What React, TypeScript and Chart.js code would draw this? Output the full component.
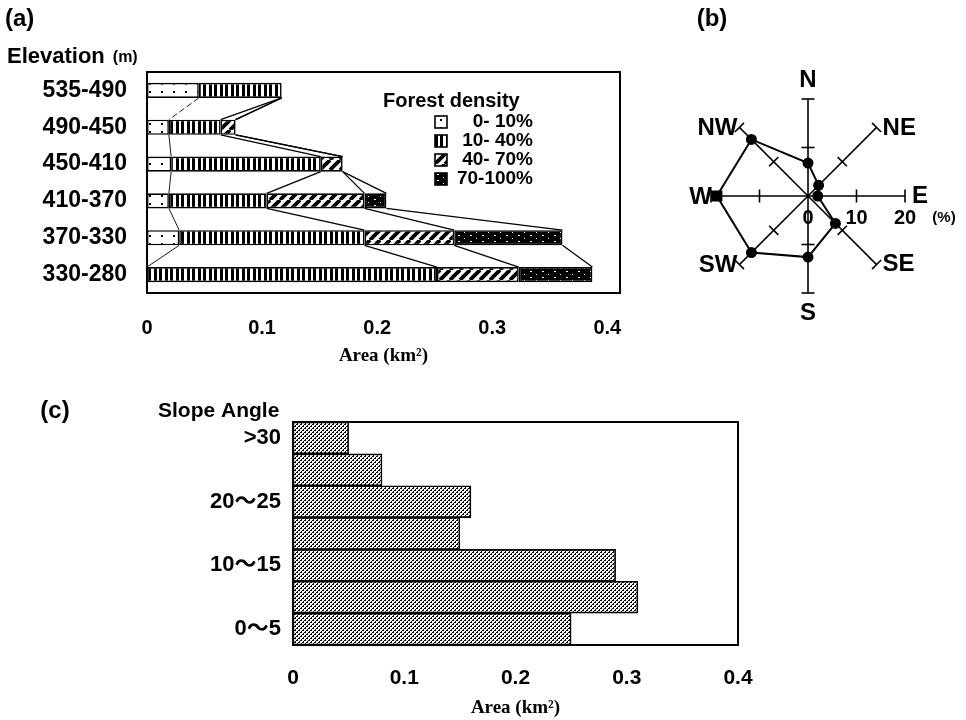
import React, { useEffect, useRef } from 'react';
import { Chart, registerables } from 'chart.js';

Chart.register(...registerables);

// ---------- data ----------
const ELEVATIONS = ['535-490', '490-450', '450-410', '410-370', '370-330', '330-280'];
const DENSITY_LABELS = ['0- 10%', '10- 40%', '40- 70%', '70-100%'];
const DENSITY_0_10 = [0.045, 0.019, 0.021, 0.019, 0.028, 0];
const DENSITY_10_40 = [0.072, 0.045, 0.13, 0.085, 0.161, 0.252];
const DENSITY_40_70 = [0, 0.013, 0.019, 0.085, 0.078, 0.071];
const DENSITY_70_100 = [0, 0, 0, 0.019, 0.094, 0.064];
const AREA_TICKS = [0, 0.1, 0.2, 0.3, 0.4];
const AREA_MAX_A = 0.411;
const AREA_MAX_C = 0.4;

const DIRECTIONS = ['N', 'NE', 'E', 'SE', 'S', 'SW', 'W', 'NW'];
const ASPECT_PCT = [6.8, 3.1, 2.0, 8.0, 12.6, 16.5, 18.8, 16.5];
const ASPECT_TICKS = [0, 10, 20];

const SLOPES = ['>30', '25〜30', '20〜25', '15〜20', '10〜15', '5〜10', '0〜5'];
const SLOPE_AREA = [0.05, 0.08, 0.16, 0.15, 0.29, 0.31, 0.25];

// ---------- styling helpers ----------
const SANS = '"Liberation Sans", "Noto Sans CJK JP", sans-serif';
const SERIF = '"Liberation Serif", serif';

function makePattern(kind: string): CanvasPattern | string {
  const c = document.createElement('canvas');
  const g = c.getContext('2d');
  if (!g) return '#888';
  if (kind === 'dots') {
    c.width = 12; c.height = 8;
    g.fillStyle = '#fff'; g.fillRect(0, 0, 12, 8);
    g.fillStyle = '#000'; g.fillRect(5, 3, 2, 2);
  } else if (kind === 'vstripe') {
    c.width = 11; c.height = 4;
    g.fillStyle = '#fff'; g.fillRect(0, 0, 11, 4);
    g.fillStyle = '#000'; g.fillRect(0, 0, 3, 4); g.fillRect(5, 0, 3, 4);
  } else if (kind === 'diag') {
    c.width = 10; c.height = 10;
    g.fillStyle = '#fff'; g.fillRect(0, 0, 10, 10);
    g.strokeStyle = '#000'; g.lineWidth = 3.8;
    for (const o of [-10, 0, 10]) {
      g.beginPath(); g.moveTo(o, 10); g.lineTo(o + 10, 0); g.stroke();
    }
  } else if (kind === 'dense') {
    c.width = 12; c.height = 6;
    g.fillStyle = '#000'; g.fillRect(0, 0, 12, 6);
    g.fillStyle = '#fff';
    g.fillRect(2, 1, 2, 1); g.fillRect(8, 4, 1, 1);
  } else {
    c.width = 4; c.height = 4;
    g.fillStyle = '#fff'; g.fillRect(0, 0, 4, 4);
    g.fillStyle = '#000';
    g.fillRect(0, 0, 2, 1); g.fillRect(3, 1, 1, 1);
    g.fillRect(2, 2, 2, 1); g.fillRect(1, 3, 1, 1);
  }
  return g.createPattern(c, 'repeat') || '#888';
}

const boxPlugin = {
  id: 'box',
  afterDraw(chart: any) {
    const { left, top, right, bottom } = chart.chartArea;
    const ctx = chart.ctx;
    ctx.save();
    ctx.strokeStyle = '#000';
    ctx.lineWidth = 2;
    ctx.strokeRect(left, top, right - left, bottom - top);
    ctx.restore();
  },
};

const connectorPlugin = {
  id: 'connectors',
  afterDatasetsDraw(chart: any) {
    const ctx = chart.ctx;
    const n = chart.data.labels.length;
    ctx.save();
    ctx.strokeStyle = '#000';
    chart.data.datasets.forEach((_ds: any, k: number) => {
      const meta = chart.getDatasetMeta(k);
      ctx.lineWidth = k === 0 ? 0.9 : 1.3;
      for (let i = 0; i < n - 1; i++) {
        const a = meta.data[i].getProps(['x', 'y', 'height'], true);
        const b = meta.data[i + 1].getProps(['x', 'y', 'height'], true);
        ctx.setLineDash(k === 0 && i === 0 ? [6, 3] : []);
        ctx.beginPath();
        ctx.moveTo(a.x, a.y + a.height / 2);
        ctx.lineTo(b.x, b.y - b.height / 2);
        ctx.stroke();
      }
    });
    ctx.restore();
  },
};

const noSidePadding = (s: any) => {
  s.paddingLeft = 0;
  s.paddingRight = 0;
};

export default function App() {
  const aRef = useRef<HTMLCanvasElement>(null);
  const bRef = useRef<HTMLCanvasElement>(null);
  const cRef = useRef<HTMLCanvasElement>(null);

  useEffect(() => {
    const charts: Chart[] = [];
    const pDots = makePattern('dots');
    const pStripe = makePattern('vstripe');
    const pDiag = makePattern('diag');
    const pDense = makePattern('dense');
    const pStipple = makePattern('stipple');
    const densityFills = [pDots, pStripe, pDiag, pDense];

    // ---------- panel (a) ----------
    const legendPlugin = {
      id: 'densityLegend',
      afterDraw(chart: any) {
        const ctx = chart.ctx;
        ctx.save();
        ctx.fillStyle = '#000';
        ctx.font = `bold 20px ${SANS}`;
        ctx.textAlign = 'left';
        ctx.textBaseline = 'middle';
        ctx.fillText('Forest density', 383, 101);
        ctx.font = `bold 19px ${SANS}`;
        ctx.textAlign = 'right';
        const rows = [122, 141, 160, 179];
        DENSITY_LABELS.forEach((lab, i) => {
          const y = rows[i];
          ctx.save();
          ctx.translate(435, y - 6);
          ctx.fillStyle = densityFills[i];
          ctx.fillRect(0, 0, 12, 12);
          ctx.strokeStyle = '#000';
          ctx.lineWidth = 1.6;
          ctx.strokeRect(0, 0, 12, 12);
          ctx.restore();
          ctx.fillText(lab, 533, y);
        });
        ctx.font = `bold 24px ${SANS}`;
        ctx.textAlign = 'left';
        ctx.fillText('(a)', 5, 19);
        ctx.font = `bold 22px ${SANS}`;
        ctx.fillText('Elevation', 7, 57);
        const w = ctx.measureText('Elevation').width;
        ctx.font = `bold 16px ${SANS}`;
        ctx.fillText('(m)', 7 + w + 8, 58);
        ctx.restore();
      },
    };

    const common = {
      borderColor: '#000',
      borderWidth: 1.6,
      borderSkipped: false,
      barPercentage: 0.41,
      categoryPercentage: 1,
    };

    if (aRef.current) {
      charts.push(
        new Chart(aRef.current, {
          type: 'bar',
          data: {
            labels: ELEVATIONS,
            datasets: [
              { label: DENSITY_LABELS[0], data: DENSITY_0_10, backgroundColor: pDots, ...common },
              { label: DENSITY_LABELS[1], data: DENSITY_10_40, backgroundColor: pStripe, ...common },
              { label: DENSITY_LABELS[2], data: DENSITY_40_70, backgroundColor: pDiag, ...common },
              { label: DENSITY_LABELS[3], data: DENSITY_70_100, backgroundColor: pDense, ...common },
            ] as any,
          },
          options: {
            animation: false,
            responsive: false,
            indexAxis: 'y',
            layout: { padding: { top: 72, right: 20, left: 0, bottom: 0 } },
            plugins: { legend: { display: false }, tooltip: { enabled: false } },
            scales: {
              x: {
                stacked: true,
                min: 0,
                max: AREA_MAX_A,
                grid: { display: false },
                border: { display: false },
                afterBuildTicks: (s: any) => {
                  s.ticks = AREA_TICKS.map((v) => ({ value: v }));
                },
                afterFit: (s: any) => {
                  s.height = 87;
                  noSidePadding(s);
                },
                ticks: {
                  color: '#000',
                  padding: 15,
                  font: { family: SANS, size: 20, weight: 'bold' },
                  callback: (v: any) => String(v),
                },
                title: {
                  display: true,
                  text: 'Area (km²)',
                  color: '#000',
                  font: { family: SERIF, size: 19, weight: 'bold' },
                  padding: { top: 0, bottom: 13 },
                },
              },
              y: {
                stacked: true,
                grid: { display: false },
                border: { display: false },
                afterFit: (s: any) => {
                  s.width = 147;
                },
                ticks: {
                  color: '#000',
                  padding: 12,
                  autoSkip: false,
                  font: { family: SANS, size: 23, weight: 'bold' },
                },
              },
            },
          } as any,
          plugins: [connectorPlugin, boxPlugin, legendPlugin],
        })
      );
    }

    // ---------- panel (b) ----------
    const LABEL_PLACE: Record<string, [CanvasTextAlign, number, number]> = {
      N: ['center', 0, -19],
      NE: ['left', 6, 1],
      E: ['left', 7, 0],
      SE: ['left', 6, 0],
      S: ['center', 0, 20],
      SW: ['right', -2, 1],
      W: ['right', 1, 1],
      NW: ['right', -2, 1],
    };
    const radarDecor = {
      id: 'radarDecor',
      afterDraw(chart: any) {
        const s = chart.scales.r;
        const ctx = chart.ctx;
        ctx.save();
        ctx.strokeStyle = '#000';
        ctx.lineWidth = 1.6;
        DIRECTIONS.forEach((_d, i) => {
          const ang = s.getIndexAngle(i) - Math.PI / 2;
          const px = -Math.sin(ang);
          const py = Math.cos(ang);
          ASPECT_TICKS.slice(1).forEach((v) => {
            const p = s.getPointPositionForValue(i, v);
            ctx.beginPath();
            ctx.moveTo(p.x - 6.5 * px, p.y - 6.5 * py);
            ctx.lineTo(p.x + 6.5 * px, p.y + 6.5 * py);
            ctx.stroke();
          });
        });
        ctx.fillStyle = '#000';
        ctx.textBaseline = 'middle';
        ctx.font = `bold 24px ${SANS}`;
        DIRECTIONS.forEach((d, i) => {
          const p = s.getPointPositionForValue(i, s.max);
          const [al, dx, dy] = LABEL_PLACE[d];
          ctx.textAlign = al;
          ctx.fillText(d, p.x + dx, p.y + dy);
        });
        const eIdx = DIRECTIONS.indexOf('E');
        ctx.font = `bold 20px ${SANS}`;
        ctx.textAlign = 'center';
        ASPECT_TICKS.forEach((v) => {
          const p = s.getPointPositionForValue(eIdx, v);
          ctx.fillText(String(v), p.x, p.y + 22);
        });
        const pe = s.getPointPositionForValue(eIdx, s.max);
        ctx.font = `bold 15px ${SANS}`;
        ctx.fillText('(%)', pe.x + 39, pe.y + 22);
        ctx.font = `bold 24px ${SANS}`;
        ctx.fillText('(b)', 52, 19);
        ctx.restore();
      },
    };

    if (bRef.current) {
      charts.push(
        new Chart(bRef.current, {
          type: 'radar',
          data: {
            labels: DIRECTIONS,
            datasets: [
              {
                data: ASPECT_PCT,
                borderColor: '#000',
                borderWidth: 2,
                backgroundColor: 'transparent',
                fill: false,
                pointBackgroundColor: '#000',
                pointBorderColor: '#000',
                pointRadius: DIRECTIONS.map((d) => (d === 'W' ? 6.5 : 4.5)),
                pointStyle: DIRECTIONS.map((d) => (d === 'W' ? 'rect' : 'circle')),
              },
            ] as any,
          },
          options: {
            animation: false,
            responsive: false,
            layout: { padding: { left: 51, right: 61, top: 99, bottom: 47 } },
            plugins: { legend: { display: false }, tooltip: { enabled: false } },
            elements: { line: { tension: 0 } },
            scales: {
              r: {
                min: 0,
                max: 20,
                ticks: { display: false, stepSize: 10 },
                grid: { display: false },
                angleLines: { display: true, color: '#000', lineWidth: 1.6 },
                pointLabels: { display: false },
              },
            },
          } as any,
          plugins: [radarDecor],
        })
      );
    }

    // ---------- panel (c) ----------
    const cTitles = {
      id: 'cTitles',
      afterDraw(chart: any) {
        const ctx = chart.ctx;
        ctx.save();
        ctx.fillStyle = '#000';
        ctx.textBaseline = 'middle';
        ctx.font = `bold 24px ${SANS}`;
        ctx.textAlign = 'center';
        ctx.fillText('(c)', 55, 31);
        ctx.font = `bold 21px ${SANS}`;
        ctx.textAlign = 'left';
        ctx.fillText('Slope Angle', 158, 31);
        ctx.restore();
      },
    };

    if (cRef.current) {
      charts.push(
        new Chart(cRef.current, {
          type: 'bar',
          data: {
            labels: SLOPES,
            datasets: [
              {
                data: SLOPE_AREA,
                backgroundColor: pStipple,
                borderColor: '#000',
                borderWidth: 1.6,
                borderSkipped: false,
                barPercentage: 1,
                categoryPercentage: 1,
              },
            ] as any,
          },
          options: {
            animation: false,
            responsive: false,
            indexAxis: 'y',
            layout: { padding: { top: 42, right: 62, left: 0, bottom: 0 } },
            plugins: { legend: { display: false }, tooltip: { enabled: false } },
            scales: {
              x: {
                min: 0,
                max: AREA_MAX_C,
                grid: { display: false },
                border: { display: false },
                afterBuildTicks: (s: any) => {
                  s.ticks = AREA_TICKS.map((v) => ({ value: v }));
                },
                afterFit: (s: any) => {
                  s.height = 75;
                  noSidePadding(s);
                },
                ticks: {
                  color: '#000',
                  padding: 13,
                  font: { family: SANS, size: 21, weight: 'bold' },
                  callback: (v: any) => String(v),
                },
                title: {
                  display: true,
                  text: 'Area (km²)',
                  color: '#000',
                  font: { family: SERIF, size: 19, weight: 'bold' },
                  padding: { top: 0, bottom: 1 },
                },
              },
              y: {
                grid: { display: false },
                border: { display: false },
                afterFit: (s: any) => {
                  s.width = 293;
                },
                ticks: {
                  color: '#000',
                  padding: 4,
                  autoSkip: false,
                  font: { family: SANS, size: 22, weight: 'bold' },
                  callback: (_v: any, i: number) => (i % 2 === 0 ? SLOPES[i] : ''),
                },
              },
            },
          } as any,
          plugins: [boxPlugin, cTitles],
        })
      );
    }

    return () => {
      charts.forEach((c) => c.destroy());
    };
  }, []);

  return (
    <div style={{ position: 'fixed', left: 0, top: 0, width: 966, height: 720, background: '#fff' }}>
      <canvas
        ref={aRef}
        width={640}
        height={380}
        style={{ position: 'absolute', left: 0, top: 0, width: 640, height: 380 }}
      />
      <canvas
        ref={bRef}
        width={306}
        height={340}
        style={{ position: 'absolute', left: 660, top: 0, width: 306, height: 340 }}
      />
      <canvas
        ref={cRef}
        width={800}
        height={340}
        style={{ position: 'absolute', left: 0, top: 380, width: 800, height: 340 }}
      />
    </div>
  );
}
